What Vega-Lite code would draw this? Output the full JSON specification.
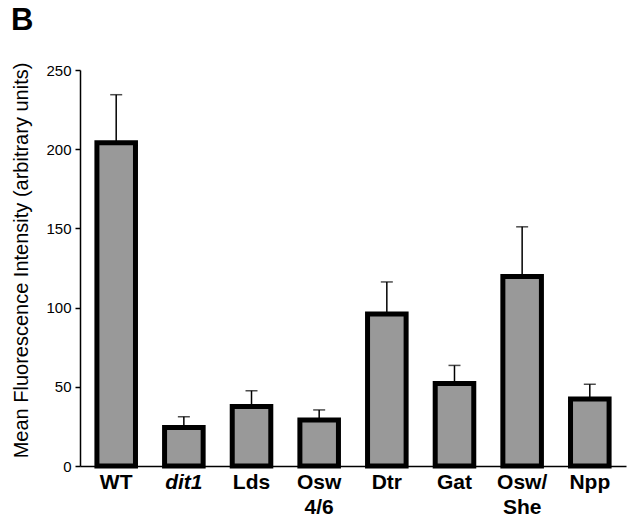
{
  "$schema": "https://vega.github.io/schema/vega-lite/v6.json",
  "width": 546,
  "height": 396,
  "autosize": {"type": "none"},
  "padding": {"left": 80, "top": 70, "right": 1, "bottom": 50},
  "background": "white",
  "config": {
    "view": {"stroke": null},
    "font": "Liberation Sans",
    "axis": {"grid": false, "domainColor": "black", "domainWidth": 1.5, "tickColor": "black", "labelColor": "black", "titleColor": "black", "labelFont": "Liberation Sans", "titleFont": "Liberation Sans"}
  },
  "title": {"text": "B", "anchor": "start", "frame": "group", "dx": -69, "offset": 1, "baseline": "alphabetic", "fontSize": 31, "fontWeight": "bold", "font": "Liberation Sans", "color": "black"},
  "data": {"values": [
    {"strain": "WT", "mean": 204, "upper": 234.4},
    {"strain": "dit1", "mean": 24.3, "upper": 31.1},
    {"strain": "Lds", "mean": 37.6, "upper": 47.5},
    {"strain": "Osw 4/6", "mean": 29, "upper": 35.4},
    {"strain": "Dtr", "mean": 96, "upper": 116.2},
    {"strain": "Gat", "mean": 52.1, "upper": 63.5},
    {"strain": "Osw/ She", "mean": 119.6, "upper": 151},
    {"strain": "Npp", "mean": 42.3, "upper": 51.6}
  ]},
  "encoding": {
    "x": {
      "field": "strain", "type": "nominal", "sort": null,
      "scale": {"paddingInner": 0.43, "paddingOuter": 0.25},
      "axis": {
        "title": null, "ticks": false, "labelAngle": 0, "labelPadding": 5,
        "labelFontSize": 21, "labelFontWeight": "bold", "labelLineHeight": 25,
        "labelFontStyle": {"condition": {"test": "datum.value == 'dit1'", "value": "italic"}, "value": "normal"},
        "labelExpr": "split(datum.label, ' ')",
        "labelBaseline": "top"
      }
    }
  },
  "layer": [
    {
      "mark": {"type": "rule", "color": "black", "strokeWidth": 1.5},
      "encoding": {
        "y": {"field": "mean", "type": "quantitative"},
        "y2": {"field": "upper"}
      }
    },
    {
      "mark": {"type": "tick", "color": "black", "thickness": 1.5, "size": 12},
      "encoding": {
        "y": {"field": "upper", "type": "quantitative"}
      }
    },
    {
      "mark": {"type": "bar", "fill": "#999999", "stroke": "black", "strokeWidth": 5, "strokeJoin": "miter"},
      "encoding": {
        "y": {
          "field": "mean", "type": "quantitative",
          "scale": {"domain": [0, 250], "nice": false},
          "axis": {
            "title": "Mean Fluorescence Intensity (arbitrary units)", "titleFontSize": 20, "titleFontWeight": "normal", "titlePadding": 14, "titleY": 190,
            "values": [0, 50, 100, 150, 200, 250], "tickSize": 5, "tickWidth": 1.5, "labelFontSize": 15, "labelPadding": 4
          }
        }
      }
    }
  ]
}
